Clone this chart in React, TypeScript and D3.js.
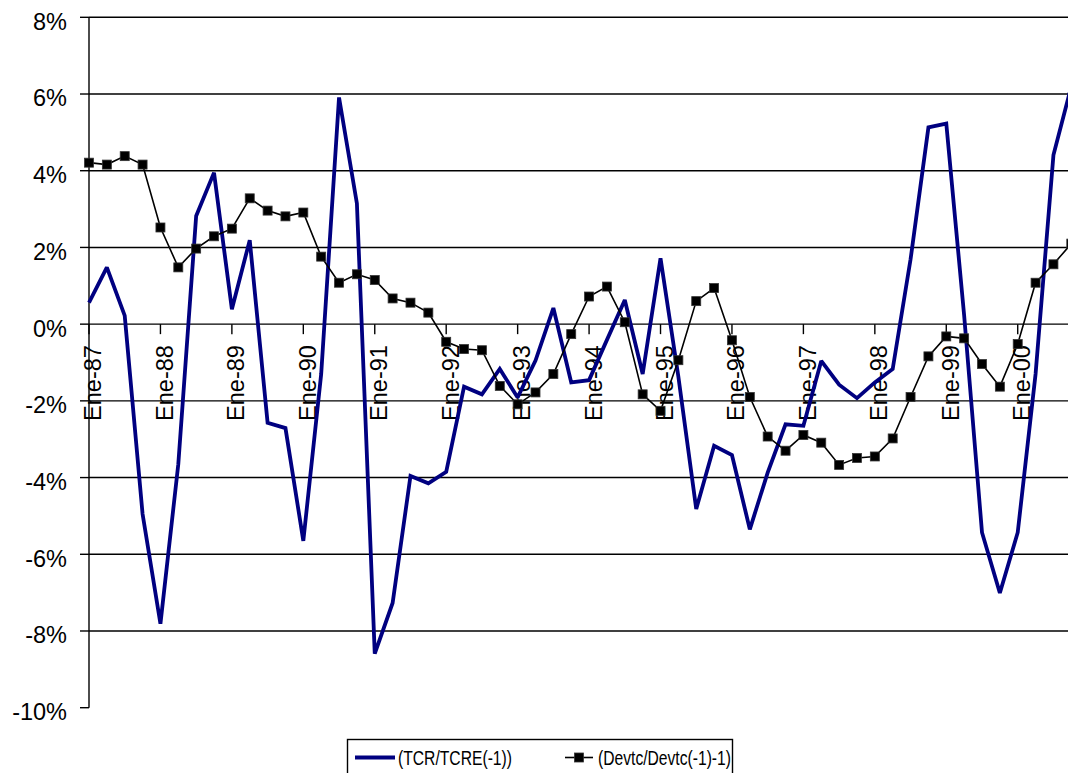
import React, { useEffect, useRef } from 'react';
import * as d3 from 'd3';

// Year tick labels (one every four quarterly observations)
const yearLabels = [
  'Ene-87', 'Ene-88', 'Ene-89', 'Ene-90', 'Ene-91', 'Ene-92', 'Ene-93',
  'Ene-94', 'Ene-95', 'Ene-96', 'Ene-97', 'Ene-98', 'Ene-99', 'Ene-00',
];
const quartersPerYear = 4;

// Quarterly change of the real exchange rate, in percent
const tcr = [
  0.56, 1.48, 0.22, -4.95, -7.81, -3.65, 2.82, 3.95,
  0.39, 2.19, -2.57, -2.71, -5.65, -1.3, 5.91, 3.15,
  -8.59, -7.27, -3.96, -4.15, -3.85, -1.63, -1.83, -1.17,
  -1.91, -0.95, 0.42, -1.52, -1.46, -0.41, 0.63, -1.3,
  1.72, -1.37, -4.82, -3.17, -3.41, -5.35, -3.87, -2.61,
  -2.65, -0.96, -1.58, -1.93, -1.52, -1.17, 1.69, 5.13,
  5.23, 0.23, -5.43, -7.01, -5.43, -1.3, 4.41, 6.2,
];

// Quarterly devaluation rate, in percent
const devtc = [
  4.21, 4.16, 4.38, 4.16, 2.52, 1.48, 1.97, 2.29,
  2.49, 3.28, 2.96, 2.81, 2.91, 1.76, 1.08, 1.3,
  1.15, 0.67, 0.56, 0.3, -0.46, -0.65, -0.68, -1.61,
  -2.09, -1.78, -1.3, -0.26, 0.72, 0.98, 0.05, -1.83,
  -2.26, -0.94, 0.6, 0.94, -0.42, -1.9, -2.93, -3.3,
  -2.89, -3.09, -3.67, -3.49, -3.45, -2.98, -1.9, -0.84,
  -0.32, -0.37, -1.04, -1.63, -0.52, 1.08, 1.56, 2.1,
];

const yTicks = [-10, -8, -6, -4, -2, 0, 2, 4, 6, 8];

const seriesNames = ['(TCR/TCRE(-1))', '(Devtc/Devtc(-1)-1)'];

const FONT = '"Liberation Sans", Arial, sans-serif';

export default function App() {
  const ref = useRef<SVGSVGElement>(null);

  useEffect(() => {
    const svg = d3.select(ref.current);
    svg.selectAll('*').remove();

    const n = tcr.length;
    const x = d3.scaleLinear().domain([0, n - 1]).range([89, 89 + 17.86 * (n - 1)]);
    const y = d3.scaleLinear().domain([-10, 8]).range([707.7, 17.3]);
    const xLeft = x(0);
    const xRight = x(n - 1) + 2;

    // Horizontal gridlines (the 0% line doubles as the category axis)
    svg.append('g')
      .selectAll('line')
      .data(yTicks.filter((t) => t > -10))
      .join('line')
      .attr('x1', xLeft)
      .attr('x2', xRight)
      .attr('y1', (d) => y(d))
      .attr('y2', (d) => y(d))
      .attr('stroke', '#000')
      .attr('stroke-width', 1.4);

    // Value axis
    const yAxis = svg.append('g');
    yAxis.append('line')
      .attr('x1', xLeft).attr('x2', xLeft)
      .attr('y1', y(8)).attr('y2', y(-10))
      .attr('stroke', '#000').attr('stroke-width', 1.4);
    yAxis.selectAll('line.tick')
      .data(yTicks)
      .join('line')
      .attr('class', 'tick')
      .attr('x1', xLeft - 9).attr('x2', xLeft)
      .attr('y1', (d) => y(d)).attr('y2', (d) => y(d))
      .attr('stroke', '#000').attr('stroke-width', 1.4);
    yAxis.selectAll('text')
      .data(yTicks)
      .join('text')
      .attr('x', 67)
      .attr('y', (d) => y(d) + 4)
      .attr('dy', '0.36em')
      .attr('text-anchor', 'end')
      .attr('font-family', FONT)
      .attr('font-size', 23.5)
      .attr('fill', '#000')
      .text((d) => `${d}%`);

    // Category axis ticks and rotated year labels
    const xAxis = svg.append('g');
    const tickIdx = yearLabels.map((_, k) => k * quartersPerYear);
    xAxis.selectAll('line')
      .data(tickIdx)
      .join('line')
      .attr('x1', (d) => x(d)).attr('x2', (d) => x(d))
      .attr('y1', y(0)).attr('y2', y(0) + 10)
      .attr('stroke', '#000').attr('stroke-width', 1.4);
    xAxis.selectAll('text')
      .data(yearLabels)
      .join('text')
      .attr('transform', (_, k) => `translate(${x(k * quartersPerYear)},${y(0) + 21}) rotate(-90)`)
      .attr('dy', '0.53em')
      .attr('text-anchor', 'end')
      .attr('font-family', FONT)
      .attr('font-size', 23.5)
      .attr('fill', '#000')
      .text((d) => d);

    const line = d3.line<number>()
      .x((_, i) => x(i))
      .y((d) => y(d));

    // Series 1: real exchange rate
    svg.append('path')
      .datum(tcr)
      .attr('d', line)
      .attr('fill', 'none')
      .attr('stroke', '#000080')
      .attr('stroke-width', 3.8)
      .attr('stroke-linejoin', 'miter')
      .attr('stroke-miterlimit', 2);

    // Series 2: devaluation with square markers
    svg.append('path')
      .datum(devtc)
      .attr('d', line)
      .attr('fill', 'none')
      .attr('stroke', '#000')
      .attr('stroke-width', 1.6);
    const ms = 9;
    svg.append('g')
      .selectAll('rect')
      .data(devtc)
      .join('rect')
      .attr('x', (_, i) => x(i) - ms / 2)
      .attr('y', (d) => y(d) - ms / 2)
      .attr('width', ms)
      .attr('height', ms)
      .attr('fill', '#000')
      .attr('stroke', '#333')
      .attr('stroke-width', 0.8);

    // Legend
    const lg = svg.append('g');
    lg.append('rect')
      .attr('x', 347.5).attr('y', 739.5)
      .attr('width', 385).attr('height', 60)
      .attr('fill', '#fff').attr('stroke', '#000').attr('stroke-width', 1.4);
    const ly = 757.5;
    lg.append('line')
      .attr('x1', 355).attr('x2', 395).attr('y1', ly).attr('y2', ly)
      .attr('stroke', '#000080').attr('stroke-width', 3.8);
    lg.append('text')
      .attr('x', 398).attr('y', ly).attr('dy', '0.36em')
      .attr('font-family', FONT).attr('font-size', 20)
      .attr('textLength', 114).attr('lengthAdjust', 'spacingAndGlyphs')
      .text(seriesNames[0]);
    lg.append('line')
      .attr('x1', 565).attr('x2', 593).attr('y1', ly).attr('y2', ly)
      .attr('stroke', '#000').attr('stroke-width', 1.6);
    lg.append('rect')
      .attr('x', 579 - ms / 2).attr('y', ly - ms / 2)
      .attr('width', ms).attr('height', ms)
      .attr('fill', '#000').attr('stroke', '#333').attr('stroke-width', 0.8);
    lg.append('text')
      .attr('x', 598).attr('y', ly).attr('dy', '0.36em')
      .attr('font-family', FONT).attr('font-size', 20)
      .attr('textLength', 133).attr('lengthAdjust', 'spacingAndGlyphs')
      .text(seriesNames[1]);
  }, []);

  return (
    <svg
      ref={ref}
      width={1068}
      height={773}
      style={{ position: 'absolute', left: 0, top: 0, background: '#fff' }}
    />
  );
}
